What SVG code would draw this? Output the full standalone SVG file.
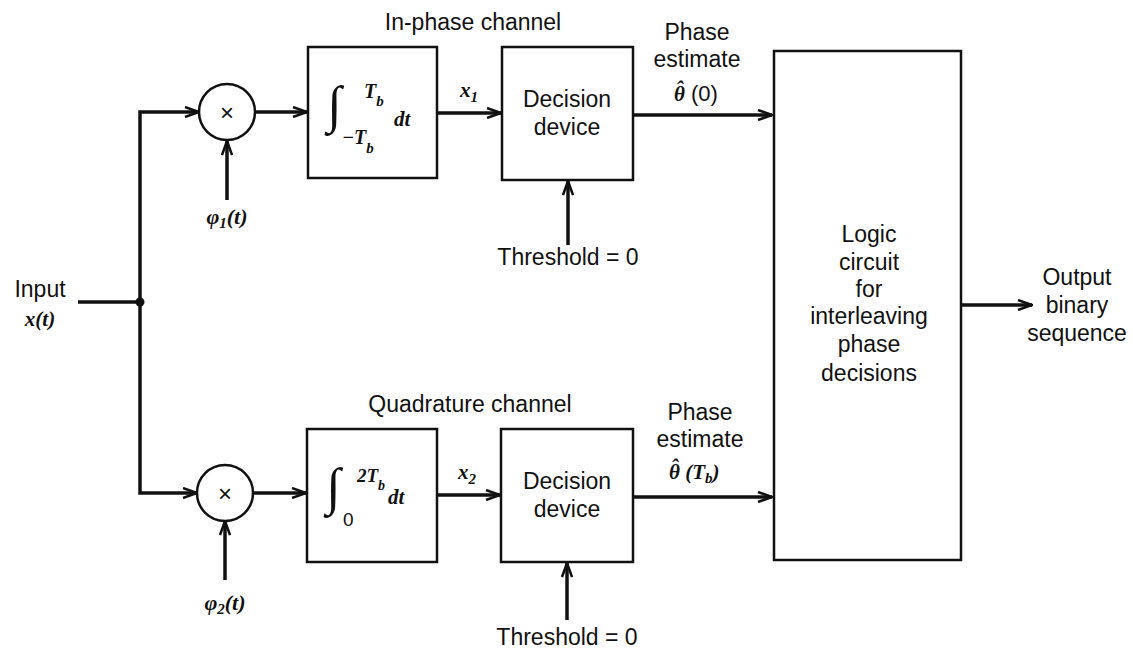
<svg xmlns="http://www.w3.org/2000/svg" width="1133" height="650" viewBox="0 0 1133 650">
<style>
.box{fill:#fff;stroke:#111;stroke-width:2.5}
.ln{fill:none;stroke:#111;stroke-width:3.5;marker-end:url(#ah)}
.lbl{font-family:"Liberation Sans",Arial,sans-serif;font-size:23px;fill:#111;text-anchor:middle}
.m{font-family:"Liberation Serif","Times New Roman",serif;font-style:italic;font-weight:bold;fill:#111}
</style>
<defs>
<marker id="ah" viewBox="0 0 16 12" refX="15" refY="6" markerWidth="16" markerHeight="12" markerUnits="userSpaceOnUse" orient="auto">
<path d="M1,1 L15,6 L1,11" fill="none" stroke="#111" stroke-width="2.5"/>
</marker>
</defs>
<rect width="1133" height="650" fill="#fff"/>

<g id="connectors">
<path class="ln" d="M140,302 V112 H199"/>
<path class="ln" d="M140,302 V493 H197"/>
<path d="M78,302 H140" fill="none" stroke="#111" stroke-width="3.5"/>
<circle cx="140" cy="302" r="4.5" fill="#111"/>
<path class="ln" d="M255,112 H307"/>
<path class="ln" d="M227,200 V141"/>
<path class="ln" d="M437,113 H501"/>
<path class="ln" d="M568,245 V181"/>
<path class="ln" d="M633,115 H772"/>
<path class="ln" d="M253,493 H306"/>
<path class="ln" d="M225,580 V521"/>
<path class="ln" d="M437,495 H500"/>
<path class="ln" d="M567,620 V563"/>
<path class="ln" d="M633,497 H772"/>
<path class="ln" d="M961,305 H1032"/>
</g>

<g id="input">
<text class="lbl" x="40" y="297">Input</text>
<text class="m" x="40" y="326" font-size="21" font-weight="normal" text-anchor="middle">x(t)</text>
</g>

<g id="mult1">
<circle cx="227" cy="112" r="28" fill="#fff" stroke="#111" stroke-width="2.5"/>
<text x="227" y="121" font-family="Liberation Sans,Arial,sans-serif" font-size="24" text-anchor="middle" fill="#111">×</text>
<text class="m" x="227" y="224" font-size="22" text-anchor="middle">φ<tspan font-size="15" dy="4">1</tspan><tspan dy="-4">(t)</tspan></text>
</g>

<g id="mult2">
<circle cx="225" cy="493" r="28" fill="#fff" stroke="#111" stroke-width="2.5"/>
<text x="225" y="502" font-family="Liberation Sans,Arial,sans-serif" font-size="24" text-anchor="middle" fill="#111">×</text>
<text class="m" x="225" y="610" font-size="22" text-anchor="middle">φ<tspan font-size="15" dy="4">2</tspan><tspan dy="-4">(t)</tspan></text>
</g>

<g id="integrator1">
<text class="lbl" x="473" y="30">In-phase channel</text>
<rect class="box" x="308" y="47" width="129" height="131"/>
<text class="m" x="327" y="122" font-size="52" font-weight="normal">∫</text>
<text class="m" x="364" y="98" font-size="20">T<tspan font-size="15" dy="8">b</tspan></text>
<text class="m" x="342" y="144" font-size="20">−T<tspan font-size="15" dy="9">b</tspan></text>
<text class="m" x="394" y="126" font-size="21">dt</text>
</g>

<g id="decision1">
<text class="m" x="460" y="97" font-size="21">x<tspan font-size="15" dy="5">1</tspan></text>
<rect class="box" x="502" y="47" width="131" height="133"/>
<text class="lbl" x="567" y="107">Decision</text>
<text class="lbl" x="567" y="135">device</text>
<text class="lbl" x="568" y="265">Threshold = 0</text>
</g>

<g id="estimate1">
<text class="lbl" x="697" y="40">Phase</text>
<text class="lbl" x="697" y="67">estimate</text>
<text class="m" x="674" y="101" font-size="21">θ<tspan dx="-9" dy="-5">ˆ</tspan><tspan dx="2" dy="5" font-family="Liberation Sans,Arial,sans-serif" font-style="normal" font-weight="normal" font-size="22"> (0)</tspan></text>
</g>

<g id="integrator2">
<text class="lbl" x="470" y="412">Quadrature channel</text>
<rect class="box" x="307" y="429" width="130" height="133"/>
<text class="m" x="326" y="504" font-size="52" font-weight="normal">∫</text>
<text x="343" y="526" font-family="Liberation Sans,Arial,sans-serif" font-size="19" fill="#111">0</text>
<text class="m" x="357" y="482" font-size="19">2T<tspan font-size="14" dy="8">b</tspan></text>
<text class="m" x="388" y="504" font-size="21">dt</text>
</g>

<g id="decision2">
<text class="m" x="458" y="479" font-size="21">x<tspan font-size="15" dy="5">2</tspan></text>
<rect class="box" x="501" y="429" width="132" height="133"/>
<text class="lbl" x="567" y="489">Decision</text>
<text class="lbl" x="567" y="517">device</text>
<text class="lbl" x="567" y="645">Threshold = 0</text>
</g>

<g id="estimate2">
<text class="lbl" x="700" y="420">Phase</text>
<text class="lbl" x="700" y="447">estimate</text>
<text class="m" x="669" y="479" font-size="21">θ<tspan dx="-9" dy="-5">ˆ</tspan><tspan dx="2" dy="5"> (T</tspan><tspan font-size="15" dy="4">b</tspan><tspan dy="-4">)</tspan></text>
</g>

<g id="logic">
<rect class="box" x="774" y="51" width="187" height="509"/>
<text class="lbl" x="869" y="242">Logic</text>
<text class="lbl" x="869" y="270">circuit</text>
<text class="lbl" x="869" y="297">for</text>
<text class="lbl" x="869" y="324">interleaving</text>
<text class="lbl" x="869" y="352">phase</text>
<text class="lbl" x="869" y="381">decisions</text>
</g>

<g id="output">
<text class="lbl" x="1077" y="285">Output</text>
<text class="lbl" x="1077" y="313">binary</text>
<text class="lbl" x="1077" y="341">sequence</text>
</g>
</svg>
